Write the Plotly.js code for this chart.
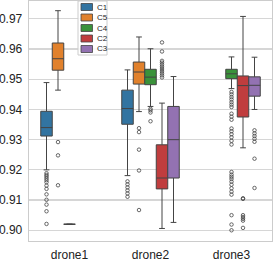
<!DOCTYPE html>
<html>
<head>
<meta charset="utf-8">
<script src="https://cdn.plot.ly/plotly-3.0.1.min.js"></script>
<style>
html,body{margin:0;padding:0;background:#fff;}
#chart{width:275px;height:261px;}
</style>
</head>
<body>
<div id="chart"></div>
<script>
// ---- data ----
var seriesNames = ['C1', 'C5', 'C4', 'C2', 'C3'];
var seriesColors = ['#3274a1', '#e1812c', '#3a923a', '#c03d3e', '#9372b2'];
var yTickVals = [0.90, 0.91, 0.92, 0.93, 0.94, 0.95, 0.96, 0.97];

// C1
var c1Cats = ['drone1', 'drone2'];
var c1Lower = [0.9200, 0.9181];
var c1Q1 = [0.9312, 0.9351];
var c1Median = [0.9340, 0.9403];
var c1Q3 = [0.9394, 0.9464];
var c1Upper = [0.9489, 0.9531];
var c1Outliers = [
  [0.9189, 0.9183, 0.9178, 0.9172, 0.9166, 0.9159, 0.9148, 0.9137, 0.9119, 0.9101, 0.9085, 0.9063, 0.9021],
  [0.9162, 0.9152, 0.9142, 0.9132, 0.9122, 0.9111]
];

// C5
var c5Cats = ['drone1', 'drone2'];
var c5Lower = [0.9464, 0.9393];
var c5Q1 = [0.9530, 0.9484];
var c5Median = [0.9568, 0.9524];
var c5Q3 = [0.9620, 0.9557];
var c5Upper = [0.9727, 0.9640];
var c5Outliers = [
  [0.9292, 0.9248, 0.9149],
  [0.9338, 0.9325, 0.9267, 0.9198, 0.9067]
];

// C4
var c4Cats = ['drone1', 'drone2', 'drone3'];
var c4Lower = [0.9020, 0.9410, 0.9469];
var c4Q1 = [0.9020, 0.9482, 0.9502];
var c4Median = [0.9020, 0.9507, 0.9518];
var c4Q3 = [0.9020, 0.9533, 0.9533];
var c4Upper = [0.9020, 0.9601, 0.9574];
var c4Outliers = [
  [null],
  [0.9402, 0.9397, 0.9390, 0.9361],
  [0.9458, 0.9450, 0.9441, 0.9433, 0.9424, 0.9416, 0.9408, 0.9386, 0.9376, 0.9366,
   0.9337, 0.9328, 0.9318, 0.9308, 0.9296, 0.9284, 0.9193, 0.9184, 0.9177, 0.9170,
   0.9161, 0.9151, 0.9139, 0.9128, 0.9118, 0.9050, 0.9019, 0.9000]
];

// C2
var c2Cats = ['drone2', 'drone3'];
var c2Lower = [0.9006, 0.9273];
var c2Q1 = [0.9137, 0.9375];
var c2Median = [0.9173, 0.9479];
var c2Q3 = [0.9283, 0.9511];
var c2Upper = [0.9421, 0.9708];
var c2Outliers = [
  [0.9622, 0.9592, 0.9561, 0.9555, 0.9548, 0.9541, 0.9534, 0.9527, 0.9520, 0.9513, 0.9506],
  [0.9106, 0.9104, 0.9050, 0.9044, 0.9038, 0.9032, 0.9008]
];

// C3
var c3Cats = ['drone2', 'drone3'];
var c3Lower = [0.9026, 0.9400];
var c3Q1 = [0.9173, 0.9444];
var c3Median = [0.9300, 0.9480];
var c3Q3 = [0.9410, 0.9508];
var c3Upper = [0.9509, 0.9573];
var c3Outliers = [
  [null],
  [0.9331, 0.9321, 0.9312, 0.9303, 0.9293, 0.9237, 0.9140]
];

// ---- build traces ----
var lineColor = '#444444';
function boxTrace(i, cats, lo, q1, med, q3, up, outl) {
  return {
    type: 'box',
    name: seriesNames[i],
    orientation: 'v',
    x: cats,
    y: outl,
    lowerfence: lo,
    q1: q1,
    median: med,
    q3: q3,
    upperfence: up,
    fillcolor: seriesColors[i],
    line: {color: lineColor, width: 1},
    whiskerwidth: 0.5,
    boxpoints: 'outliers',
    jitter: 0,
    pointpos: 0,
    marker: {symbol: 'circle-open', size: 3.5, color: lineColor, line: {width: 0.8}},
    hoverinfo: 'skip',
    showlegend: false
  };
}
var traces = [
  boxTrace(0, c1Cats, c1Lower, c1Q1, c1Median, c1Q3, c1Upper, c1Outliers),
  boxTrace(1, c5Cats, c5Lower, c5Q1, c5Median, c5Q3, c5Upper, c5Outliers),
  boxTrace(2, c4Cats, c4Lower, c4Q1, c4Median, c4Q3, c4Upper, c4Outliers),
  boxTrace(3, c2Cats, c2Lower, c2Q1, c2Median, c2Q3, c2Upper, c2Outliers),
  boxTrace(4, c3Cats, c3Lower, c3Q1, c3Median, c3Q3, c3Upper, c3Outliers)
];

// ---- legend (seaborn-style compact legend built from series arrays) ----
var M = {l: 29, r: 3, t: 1, b: 20};
var plotW = 275 - M.l - M.r, plotH = 261 - M.t - M.b;
function px2x(px) { return (px - M.l) / plotW; }
function py2y(py) { return (261 - M.b - py) / plotH; }
var legLeft = 78, legRight = 107, legTop = 1, legBottom = 55;
var itemTop = 7, itemStep = 10.5;
var shapes = [{
  type: 'rect', xref: 'paper', yref: 'paper', layer: 'above',
  x0: px2x(legLeft), x1: px2x(legRight), y0: py2y(legBottom), y1: py2y(legTop),
  fillcolor: 'rgba(255,255,255,0.85)', line: {color: '#cccccc', width: 1}
}];
var annotations = [];
seriesNames.forEach(function (nm, i) {
  var cy = itemTop + i * itemStep;
  shapes.push({
    type: 'rect', xref: 'paper', yref: 'paper', layer: 'above',
    x0: px2x(81), x1: px2x(92.5), y0: py2y(cy + 3.5), y1: py2y(cy - 3.5),
    fillcolor: seriesColors[i], line: {color: lineColor, width: 0.8}
  });
  annotations.push({
    xref: 'paper', yref: 'paper', x: px2x(95), y: py2y(cy),
    xanchor: 'left', yanchor: 'middle', showarrow: false,
    text: nm, font: {family: 'Liberation Sans, Arial, sans-serif', size: 8, color: '#262626'}
  });
});

var layout = {
  width: 275, height: 261,
  margin: M,
  paper_bgcolor: '#ffffff',
  plot_bgcolor: '#ffffff',
  font: {family: 'Liberation Sans, Arial, sans-serif', size: 12, color: '#222222'},
  boxmode: 'group',
  boxgap: 0.29,
  boxgroupgap: 0,
  showlegend: false,
  xaxis: {
    type: 'category',
    categoryorder: 'array',
    categoryarray: ['drone1', 'drone2', 'drone3'],
    range: [-0.5, 2.5],
    showgrid: false,
    showline: true, mirror: true, linecolor: '#cccccc', linewidth: 1.3,
    ticks: '', ticklabelstandoff: 2,
    zeroline: false
  },
  yaxis: {
    range: [0.89645, 0.97591],
    tickvals: yTickVals,
    tickformat: '.2f',
    showgrid: true, gridcolor: '#d6d6d6', gridwidth: 1.2,
    showline: true, mirror: true, linecolor: '#cccccc', linewidth: 1.3,
    ticks: '', ticklabelstandoff: 3,
    zeroline: false
  },
  shapes: shapes,
  annotations: annotations
};

Plotly.newPlot('chart', traces, layout, {staticPlot: true, displayModeBar: false});
</script>
</body>
</html>
